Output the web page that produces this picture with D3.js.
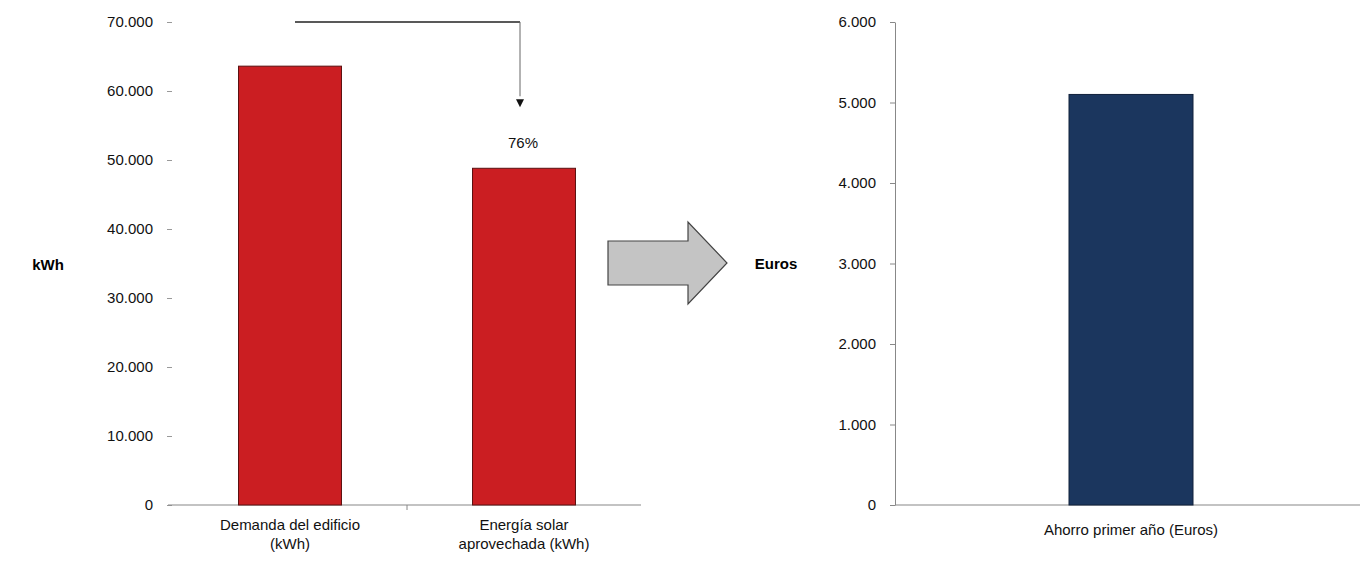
<!DOCTYPE html>
<html>
<head>
<meta charset="utf-8">
<script src="https://cdn.jsdelivr.net/npm/d3@7"></script>
<style>
  body { margin: 0; background: #fff; }
  text { font-family: "Liberation Sans", Arial, sans-serif; }
</style>
</head>
<body>
<div id="chart"></div>
<script>
// data
let energyCats = ['Demanda del edificio (kWh)', 'Energía solar aprovechada (kWh)'];
let energyLabels = [['Demanda del edificio', '(kWh)'], ['Energía solar', 'aprovechada (kWh)']];
let energyVals = [63600, 48800];
let energyTicks = [0, 10000, 20000, 30000, 40000, 50000, 60000, 70000];
let pctLabel = '76%';

let savingCats = ['Ahorro primer año (Euros)'];
let savingVals = [5100];
let savingTicks = [0, 1000, 2000, 3000, 4000, 5000, 6000];

let svgWidth = 1360;
let svgHeight = 564;

let fmt = d3.formatLocale({decimal: ',', thousands: '.', grouping: [3], currency: ['', '€']}).format(',d');

let svg = d3.select('#chart').append('svg')
    .attr('width', svgWidth)
    .attr('height', svgHeight);

let yTop = 22, yBottom = 505;

// ---- left chart ----
let x1 = d3.scaleBand().domain(energyCats).range([173, 641]);
let y1 = d3.scaleLinear().domain([0, 70000]).range([yBottom, yTop]);

let leftAxis = svg.append('g')
    .attr('transform', 'translate(172,0)')
    .call(d3.axisLeft(y1).tickValues(energyTicks).tickFormat(fmt).tickSize(5).tickPadding(14));
leftAxis.select('.domain').remove();
leftAxis.selectAll('line').attr('stroke', '#999');
leftAxis.selectAll('text').attr('font-size', 15).attr('fill', '#111');

svg.append('line')
    .attr('x1', 168).attr('x2', 641)
    .attr('y1', yBottom).attr('y2', yBottom)
    .attr('stroke', '#888').attr('stroke-width', 1.2);
svg.append('line')
    .attr('x1', x1.range()[0] + x1.bandwidth()).attr('x2', x1.range()[0] + x1.bandwidth())
    .attr('y1', yBottom).attr('y2', yBottom + 5)
    .attr('stroke', '#888');

let bw1 = x1.bandwidth() * 0.44;
svg.selectAll('.ebar').data(energyVals).enter().append('rect')
    .attr('class', 'ebar')
    .attr('x', (d, i) => x1(energyCats[i]) + (x1.bandwidth() - bw1) / 2)
    .attr('y', d => y1(d))
    .attr('width', bw1)
    .attr('height', d => yBottom - y1(d))
    .attr('fill', '#CB1E22')
    .attr('stroke', '#5a1010')
    .attr('stroke-width', 1);

energyLabels.forEach((lines, i) => {
    let t = svg.append('text')
        .attr('x', x1(energyCats[i]) + x1.bandwidth() / 2)
        .attr('y', 530)
        .attr('text-anchor', 'middle')
        .attr('font-size', 15)
        .attr('fill', '#111');
    lines.forEach((l, j) => t.append('tspan')
        .attr('x', x1(energyCats[i]) + x1.bandwidth() / 2)
        .attr('dy', j == 0 ? 0 : 19)
        .text(l));
});

svg.append('text')
    .attr('x', 48).attr('y', 270)
    .attr('text-anchor', 'middle')
    .attr('font-size', 15).attr('font-weight', 'bold')
    .text('kWh');

// bracket with percentage
let cx1 = x1(energyCats[0]) + x1.bandwidth() / 2 + 5;
let cx2 = x1(energyCats[1]) + x1.bandwidth() / 2 - 4;
svg.append('path')
    .attr('d', `M${cx1},${y1(70000)}H${cx2}`)
    .attr('fill', 'none').attr('stroke', '#222').attr('stroke-width', 1.6);
svg.append('path')
    .attr('d', `M${cx2},${y1(70000)}V${y1(energyVals[1]) - 72}`)
    .attr('fill', 'none').attr('stroke', '#666').attr('stroke-width', 1);
let tipY = y1(energyVals[1]) - 61;
svg.append('path')
    .attr('d', `M${cx2 - 4},${tipY - 8}L${cx2 + 4},${tipY - 8}L${cx2},${tipY}Z`)
    .attr('fill', '#111');
svg.append('text')
    .attr('x', cx2 + 3).attr('y', 148)
    .attr('text-anchor', 'middle')
    .attr('font-size', 15).attr('fill', '#111')
    .text(pctLabel);

// block arrow
svg.append('path')
    .attr('d', 'M608,241H688V222L727,263L688,304V285H608Z')
    .attr('fill', '#c4c4c4').attr('stroke', '#444').attr('stroke-width', 1.2);

// ---- right chart ----
let x2 = d3.scaleBand().domain(savingCats).range([895, 1367]);
let y2 = d3.scaleLinear().domain([0, 6000]).range([yBottom, yTop]);

let rightAxis = svg.append('g')
    .attr('transform', 'translate(895,0)')
    .call(d3.axisLeft(y2).tickValues(savingTicks).tickFormat(fmt).tickSize(5).tickSizeOuter(0).tickPadding(14));
rightAxis.select('.domain').attr('stroke', '#888');
rightAxis.selectAll('line').attr('stroke', '#888');
rightAxis.selectAll('text').attr('font-size', 15).attr('fill', '#111');

svg.append('line')
    .attr('x1', 895).attr('x2', 1360)
    .attr('y1', yBottom).attr('y2', yBottom)
    .attr('stroke', '#888').attr('stroke-width', 1.2);

let bw2 = 124;
svg.selectAll('.sbar').data(savingVals).enter().append('rect')
    .attr('class', 'sbar')
    .attr('x', (d, i) => x2(savingCats[i]) + (x2.bandwidth() - bw2) / 2)
    .attr('y', d => y2(d))
    .attr('width', bw2)
    .attr('height', d => yBottom - y2(d))
    .attr('fill', '#1B365E')
    .attr('stroke', '#10203a')
    .attr('stroke-width', 1);

svg.selectAll('.scat').data(savingCats).enter().append('text')
    .attr('x', d => x2(d) + x2.bandwidth() / 2)
    .attr('y', 535)
    .attr('text-anchor', 'middle')
    .attr('font-size', 15).attr('fill', '#111')
    .text(d => d);

svg.append('text')
    .attr('x', 776).attr('y', 269)
    .attr('text-anchor', 'middle')
    .attr('font-size', 15).attr('font-weight', 'bold')
    .text('Euros');
</script>
</body>
</html>
